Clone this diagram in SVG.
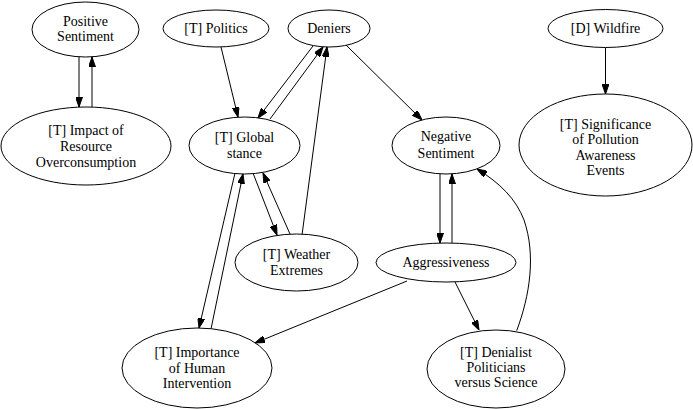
<svg xmlns="http://www.w3.org/2000/svg" width="693" height="409" viewBox="0 0 693 409">
<style>
.n ellipse{fill:#fff;stroke:#000;stroke-width:1}
.n text{font-family:"Liberation Serif","Times New Roman",serif;font-size:14px;text-anchor:middle;fill:#000}
.e path{fill:none;stroke:#000;stroke-width:1;marker-end:url(#ah)}
</style>
<defs>
<marker id="ah" markerWidth="10" markerHeight="7" refX="10" refY="3.5" orient="auto" markerUnits="userSpaceOnUse">
<path d="M0,0 L10,3.5 L0,7 z" fill="#000" stroke="#000" stroke-width="1"/>
</marker>
</defs>
<rect width="693" height="409" fill="#fff"/>
<g class="e" id="edges">
<path d="M79,57 L79,107"/>
<path d="M92,107 L92,57"/>
<path d="M221,47 L238,117"/>
<path d="M313,46 L258,118"/>
<path d="M270,119 L323,47"/>
<path d="M302,235 L327,47"/>
<path d="M346,45 L422,120"/>
<path d="M253,173 L277,235"/>
<path d="M290,234 L263,173"/>
<path d="M235,173 L199,328"/>
<path d="M211,329 L243,174"/>
<path d="M407,281 L255,343"/>
<path d="M440,174 L440,243"/>
<path d="M452,243 L452,174"/>
<path d="M455,282 L479,330"/>
<path d="M516.7,330.7 C530,295 536,255 524,220 C516,199 500,183 477,169"/>
<path d="M605.5,48 L605.5,94"/>
</g>
<g class="n" id="positive_sentiment"><ellipse cx="85.5" cy="29.5" rx="53.5" ry="27.5"/><text x="85.5" y="25.5">Positive</text><text x="85.5" y="40.5">Sentiment</text></g>
<g class="n" id="impact"><ellipse cx="86" cy="146" rx="85" ry="39"/><text x="86" y="134.5">[T] Impact of</text><text x="86" y="150.5">Resource</text><text x="86" y="166.5">Overconsumption</text></g>
<g class="n" id="politics"><ellipse cx="216" cy="28.5" rx="53" ry="18.5"/><text x="216" y="33">[T] Politics</text></g>
<g class="n" id="deniers"><ellipse cx="329" cy="28.5" rx="41" ry="18.5"/><text x="329" y="33">Deniers</text></g>
<g class="n" id="global_stance"><ellipse cx="244.5" cy="145.5" rx="55.5" ry="28.5"/><text x="244.5" y="142">[T] Global</text><text x="244.5" y="157.5">stance</text></g>
<g class="n" id="wildfire"><ellipse cx="605.5" cy="28.5" rx="57.5" ry="19"/><text x="605.5" y="33">[D] Wildfire</text></g>
<g class="n" id="significance"><ellipse cx="605.5" cy="145" rx="86.5" ry="51"/><text x="605.5" y="128.5">[T] Significance</text><text x="605.5" y="144">of Pollution</text><text x="605.5" y="159.5">Awareness</text><text x="605.5" y="175">Events</text></g>
<g class="n" id="negative_sentiment"><ellipse cx="446" cy="145.5" rx="54" ry="28.5"/><text x="446" y="141">Negative</text><text x="446" y="157.5">Sentiment</text></g>
<g class="n" id="weather_extremes"><ellipse cx="296.5" cy="262.5" rx="61.5" ry="28.5"/><text x="296.5" y="259">[T] Weather</text><text x="296.5" y="274.5">Extremes</text></g>
<g class="n" id="aggressiveness"><ellipse cx="446" cy="262.5" rx="70" ry="19.5"/><text x="446" y="267">Aggressiveness</text></g>
<g class="n" id="importance"><ellipse cx="197" cy="368" rx="75" ry="40"/><text x="197" y="357">[T] Importance</text><text x="197" y="372.5">of Human</text><text x="197" y="388">Intervention</text></g>
<g class="n" id="denialist"><ellipse cx="496" cy="369" rx="69" ry="39"/><text x="496" y="357">[T] Denialist</text><text x="496" y="372">Politicians</text><text x="496" y="387">versus Science</text></g>
</svg>
